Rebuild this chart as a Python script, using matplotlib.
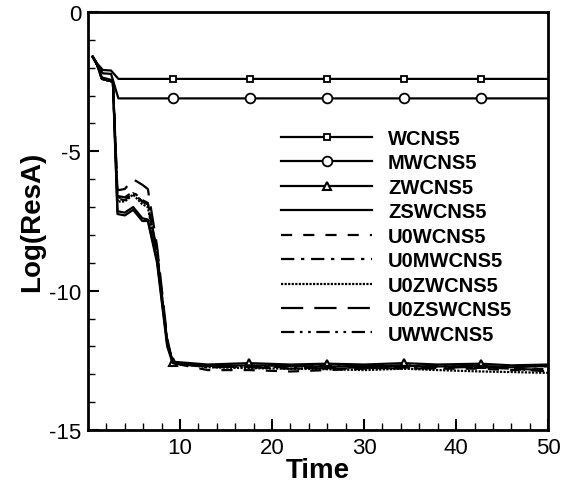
import numpy as np
import matplotlib.pyplot as plt

plt.rcParams['font.family'] = ['Liberation Sans', 'DejaVu Sans']
plt.rcParams['axes.unicode_minus'] = False

# -----------------------------
# Data
# -----------------------------
t_flat = [0.5, 1.0, 1.6, 2.5, 3.3, 9.2, 17.6, 26.0, 34.3, 42.7, 50]
wcns5 = [-1.6, -1.85, -2.08, -2.1, -2.4, -2.4, -2.4, -2.4, -2.4, -2.4, -2.4]
mwcns5 = [-1.6, -1.9, -2.2, -2.22, -3.1, -3.1, -3.1, -3.1, -3.1, -3.1, -3.1]

t_fall = [0.5, 1.0, 1.5, 2.7, 3.2, 4.0, 4.9, 5.9, 6.5, 7.5, 8.6, 9.2,
          13, 17.5, 22, 26, 30, 34.3, 38, 42.7, 46, 50]
zwcns5 = [-1.6, -1.9, -2.35, -2.45, -7.15, -7.2, -7.0, -7.4, -7.45, -8.9, -11.9, -12.55,
          -12.65, -12.6, -12.65, -12.62, -12.65, -12.6, -12.65, -12.62, -12.68, -12.65]
zswcns5 = [-1.6, -1.9, -2.4, -2.5, -7.25, -7.3, -7.1, -7.5, -7.5, -9.0, -12.0, -12.6,
           -12.7, -12.68, -12.7, -12.72, -12.7, -12.7, -12.72, -12.7, -12.75, -12.7]
u0wcns5 = [-1.6, -1.9, -2.4, -2.5, -6.7, -6.75, -6.5, -6.8, -6.9, -8.7, -11.8, -12.6,
           -12.85, -12.85, -12.9, -12.85, -12.8, -12.75, -12.8, -12.8, -12.85, -12.8]
u0mwcns5 = [-1.6, -1.9, -2.4, -2.5, -6.6, -6.65, -6.45, -6.75, -6.85, -8.6, -11.8, -12.6,
            -12.75, -12.72, -12.75, -12.8, -12.78, -12.75, -12.72, -12.75, -12.7, -12.72]
u0zwcns5 = [-1.6, -1.9, -2.4, -2.5, -6.8, -6.8, -6.55, -6.9, -7.0, -8.8, -11.85, -12.6,
            -12.75, -12.78, -12.8, -12.82, -12.85, -12.8, -12.85, -12.9, -12.92, -12.95]
u0zswcns5 = [-1.6, -1.9, -2.4, -2.5, -6.4, -6.35, -6.0, -6.2, -6.35, -8.4, -11.7, -12.6,
             -12.72, -12.75, -12.8, -12.78, -12.75, -12.8, -12.78, -12.72, -12.8, -12.85]
uwwcns5 = [-1.6, -1.9, -2.4, -2.5, -6.65, -6.7, -6.5, -6.8, -6.9, -8.65, -11.8, -12.6,
           -12.7, -12.72, -12.7, -12.7, -12.72, -12.68, -12.7, -12.75, -12.8, -12.9]

flat_marks = [5, 6, 7, 8, 9]
fall_marks = [11, 13, 15, 17, 19]

# -----------------------------
# Plotting
# -----------------------------
fig = plt.figure(figsize=(5.68, 4.89), dpi=100)
ax = fig.add_axes([0.155, 0.1186, 0.81, 0.8548])

lw = 1.6
ax.plot(t_flat, wcns5, 'k-', lw=lw, marker='s', ms=5, mfc='white', mew=1.3,
        markevery=flat_marks, label='WCNS5')
ax.plot(t_flat, mwcns5, 'k-', lw=lw, marker='o', ms=7, mfc='white', mew=1.3,
        markevery=flat_marks, label='MWCNS5')
ax.plot(t_fall, zwcns5, 'k-', lw=lw, marker='^', ms=6, mfc='white', mew=1.5,
        markevery=fall_marks, label='ZWCNS5')
ax.plot(t_fall, zswcns5, 'k-', lw=lw, label='ZSWCNS5')
ax.plot(t_fall, u0wcns5, 'k', lw=lw, ls=(0, (5, 5)), label='U0WCNS5')
ax.plot(t_fall, u0mwcns5, 'k', lw=lw, ls=(0, (6, 3, 1.5, 3)), label='U0MWCNS5')
ax.plot(t_fall, u0zwcns5, 'k', lw=lw, ls=(0, (1, 0.6)), label='U0ZWCNS5')
ax.plot(t_fall, u0zswcns5, 'k', lw=lw, ls=(0, (10, 5)), label='U0ZSWCNS5')
ax.plot(t_fall, uwwcns5, 'k', lw=lw, ls=(0, (6, 2.5, 1.2, 2.5, 1.2, 2.5)), label='UWWCNS5')

ax.set_xlim(0, 50)
ax.set_ylim(-15, 0)
ax.set_xticks([10, 20, 30, 40, 50])
ax.set_xticks(np.arange(2, 50, 2), minor=True)
ax.set_yticks([0, -5, -10, -15])
ax.set_yticks(np.arange(-14, 0, 1), minor=True)
ax.tick_params(which='both', direction='in', top=False, right=False, labelsize=16, width=1.5)
ax.tick_params(which='major', length=8, pad=5)
ax.tick_params(which='minor', length=5, width=1.0)
for s in ax.spines.values():
    s.set_linewidth(2)

ax.set_xlabel('Time', fontsize=20, fontweight='bold', labelpad=-1)
ax.set_ylabel('Log(ResA)', fontsize=20, fontweight='bold', labelpad=3)

ax.legend(loc='upper left', bbox_to_anchor=(0.42, 0.72), frameon=False,
          prop={'size': 14.5, 'weight': 'bold'}, handlelength=4.5,
          handletextpad=0.8, labelspacing=0.27, borderpad=0, borderaxespad=0)

plt.savefig('out.png', dpi=100)
